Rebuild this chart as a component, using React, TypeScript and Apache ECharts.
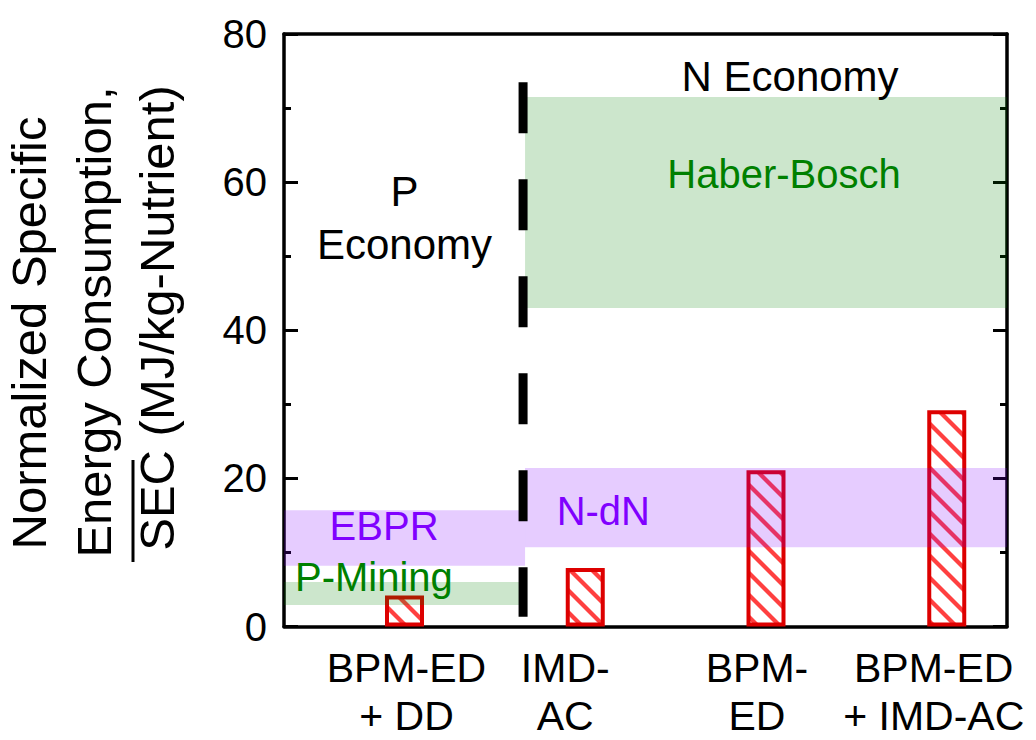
import React, { useEffect, useRef } from "react";
import * as echarts from "echarts";

// ---- data ----
const categories = ["BPM-ED\n+ DD", "IMD-\nAC", "BPM-\nED", "BPM-ED\n+ IMD-AC"];
const categoryPos = [1, 2, 3, 4];
const secValues = [4.2, 7.9, 21.1, 29.2];

const bandNames = ["Haber-Bosch", "N-dN", "EBPR", "P-Mining"];
const bandX0 = [1.667, 1.667, 0.3333, 0.3333];
const bandX1 = [4.3333, 4.3333, 1.667, 1.667];
const bandLow = [43, 10.7, 8.2, 2.9];
const bandHigh = [71.5, 21.4, 15.7, 6.0];
const bandColors = [
  "rgba(0,128,0,0.2)",
  "rgba(128,0,255,0.2)",
  "rgba(128,0,255,0.2)",
  "rgba(0,128,0,0.2)",
];

const annotationTexts = ["N Economy", "P\nEconomy", "Haber-Bosch", "N-dN", "EBPR", "P-Mining"];
const annotationX = [3.133, 1.0, 3.1, 2.1, 0.887, 0.831];
const annotationY = [74.2, 55.2, 61.1, 15.6, 13.6, 6.7];
const annotationColors = ["#000000", "#000000", "#008000", "#8000ff", "#8000ff", "#008000"];

const dividerX = 1.656;
const dividerTop = 73.5;
const dividerBottom = 1.3;

const yTicks = [0, 20, 40, 60, 80];

const FONT = "'Liberation Sans', Arial, Helvetica, sans-serif";

function makeHatch() {
  const s = 22;
  const c = document.createElement("canvas");
  c.width = s;
  c.height = s;
  const ctx = c.getContext("2d")!;
  ctx.fillStyle = "#ffffff";
  ctx.fillRect(0, 0, s, s);
  ctx.strokeStyle = "#ff4040";
  ctx.lineWidth = 4.2;
  for (let k = -1; k <= 1; k++) {
    ctx.beginPath();
    ctx.moveTo(-6, -6 + k * s);
    ctx.lineTo(s + 6, s + 6 + k * s);
    ctx.stroke();
  }
  return { image: c, repeat: "repeat", imageWidth: s, imageHeight: s };
}

const labelBase = { fontSize: 41, lineHeight: 48, fontFamily: FONT, color: "#000" };

export default function App() {
  const ref = useRef<HTMLDivElement>(null);
  useEffect(() => {
    if (!ref.current) return;
    const chart = echarts.init(ref.current, null, { renderer: "svg" });
    const hatch = makeHatch();
    const xMin = 1 / 3;
    const xMax = 13 / 3;
    const option: any = {
      animation: false,
      backgroundColor: "#ffffff",
      textStyle: { fontFamily: FONT },
      grid: { left: 284, right: 29, top: 34, bottom: 113.5, containLabel: false, outerBoundsMode: "none" },
      xAxis: [
        {
          type: "value",
          min: xMin,
          max: xMax,
          position: "bottom",
          axisLine: { show: true, onZero: false, lineStyle: { color: "#000", width: 3.5 } },
          axisTick: { show: false },
          splitLine: { show: false },
          axisLabel: {
            customValues: categoryPos,
            formatter: (v: number) => {
              const i = categoryPos.indexOf(Math.round(v));
              if (i < 0) return "";
              return categories[i]
                .split("\n")
                .map((line) => `{c${i}|${line}}`)
                .join("\n");
            },
            ...labelBase,
            margin: 17.5,
            hideOverlap: false,
            rich: {
              c0: { ...labelBase, padding: [0, 0, 0, 4] },
              c1: { ...labelBase, padding: [0, 40, 0, 0] },
              c2: { ...labelBase, padding: [0, 18, 0, 0] },
              c3: { ...labelBase, padding: [0, 26, 0, 0] },
            },
          },
        },
        {
          type: "value",
          min: xMin,
          max: xMax,
          position: "top",
          axisLine: { show: true, onZero: false, lineStyle: { color: "#000", width: 3.5 } },
          axisTick: { show: false },
          axisLabel: { show: false },
          splitLine: { show: false },
        },
      ],
      yAxis: [
        {
          type: "value",
          min: 0,
          max: 80,
          interval: 20,
          position: "left",
          axisLine: { show: true, onZero: false, lineStyle: { color: "#000", width: 3.5 } },
          axisTick: { show: true, inside: true, length: 14, lineStyle: { color: "#000", width: 3 } },
          minorTick: { show: true, splitNumber: 2, length: 7, lineStyle: { color: "#000", width: 3 } },
          splitLine: { show: false },
          axisLabel: {
            customValues: yTicks,
            fontSize: 40,
            color: "#000",
            margin: 17,
            fontFamily: FONT,
          },
        },
        {
          type: "value",
          min: 0,
          max: 80,
          interval: 20,
          position: "right",
          axisLine: { show: true, onZero: false, lineStyle: { color: "#000", width: 3.5 } },
          axisTick: { show: true, inside: true, length: 14, lineStyle: { color: "#000", width: 3 } },
          minorTick: { show: true, splitNumber: 2, length: 7, lineStyle: { color: "#000", width: 3 } },
          splitLine: { show: false },
          axisLabel: { show: false },
        },
      ],
      series: [
        {
          type: "bar",
          xAxisIndex: 0,
          yAxisIndex: 0,
          barWidth: 39,
          z: 2,
          data: categoryPos.map((x, i) => [x, secValues[i]]),
          itemStyle: { color: hatch, borderColor: "#dd0000", borderWidth: 4 },
        },
        {
          type: "custom",
          xAxisIndex: 0,
          yAxisIndex: 0,
          z: 3,
          data: bandNames.map((_, i) => [bandX0[i], bandX1[i], bandLow[i], bandHigh[i]]),
          encode: { x: [0, 1], y: [2, 3] },
          renderItem: (params: any, api: any) => {
            const p0 = api.coord([api.value(0), api.value(3)]);
            const p1 = api.coord([api.value(1), api.value(2)]);
            return {
              type: "rect",
              shape: { x: p0[0], y: p0[1], width: p1[0] - p0[0], height: p1[1] - p0[1] },
              style: { fill: bandColors[params.dataIndex] },
            };
          },
        },
        {
          type: "line",
          xAxisIndex: 0,
          yAxisIndex: 0,
          z: 4,
          symbol: "none",
          data: [
            [dividerX, dividerTop],
            [dividerX, dividerBottom],
          ],
          lineStyle: { color: "#000", width: 9, type: [51, 46], cap: "butt" },
        },
        {
          type: "custom",
          xAxisIndex: 0,
          yAxisIndex: 0,
          z: 5,
          data: annotationTexts.map((_, i) => [annotationX[i], annotationY[i]]),
          encode: { x: 0, y: 1 },
          renderItem: (params: any, api: any) => {
            const i = params.dataIndex;
            const p = api.coord([api.value(0), api.value(1)]);
            const black = annotationColors[i] === "#000000";
            return {
              type: "text",
              x: p[0],
              y: p[1],
              style: {
                text: annotationTexts[i],
                fill: annotationColors[i],
                font: `${black ? 42 : 40}px ${FONT}`,
                lineHeight: 53,
                align: "center",
                verticalAlign: "middle",
              },
            };
          },
        },
      ],
      graphic: [
        {
          type: "text",
          x: 29,
          y: 333,
          rotation: Math.PI / 2,
          style: {
            text: "Normalized Specific",
            font: `49px ${FONT}`,
            fill: "#000",
            align: "center",
            verticalAlign: "middle",
          },
        },
        {
          type: "text",
          x: 94,
          y: 322,
          rotation: Math.PI / 2,
          style: {
            text: "Energy Consumption,",
            font: `49px ${FONT}`,
            fill: "#000",
            align: "center",
            verticalAlign: "middle",
          },
        },
        {
          type: "text",
          x: 157,
          y: 318,
          rotation: Math.PI / 2,
          style: {
            text: "SEC (MJ/kg-Nutrient)",
            font: `49px ${FONT}`,
            fill: "#000",
            align: "center",
            verticalAlign: "middle",
          },
        },
        {
          type: "line",
          shape: { x1: 133, y1: 460, x2: 133, y2: 562 },
          style: { stroke: "#000", lineWidth: 3 },
        },
      ],
    };
    chart.setOption(option);
    return () => chart.dispose();
  }, []);
  return (
    <div
      ref={ref}
      style={{ position: "fixed", left: 0, top: 0, width: 1036, height: 740, background: "#fff" }}
    />
  );
}
